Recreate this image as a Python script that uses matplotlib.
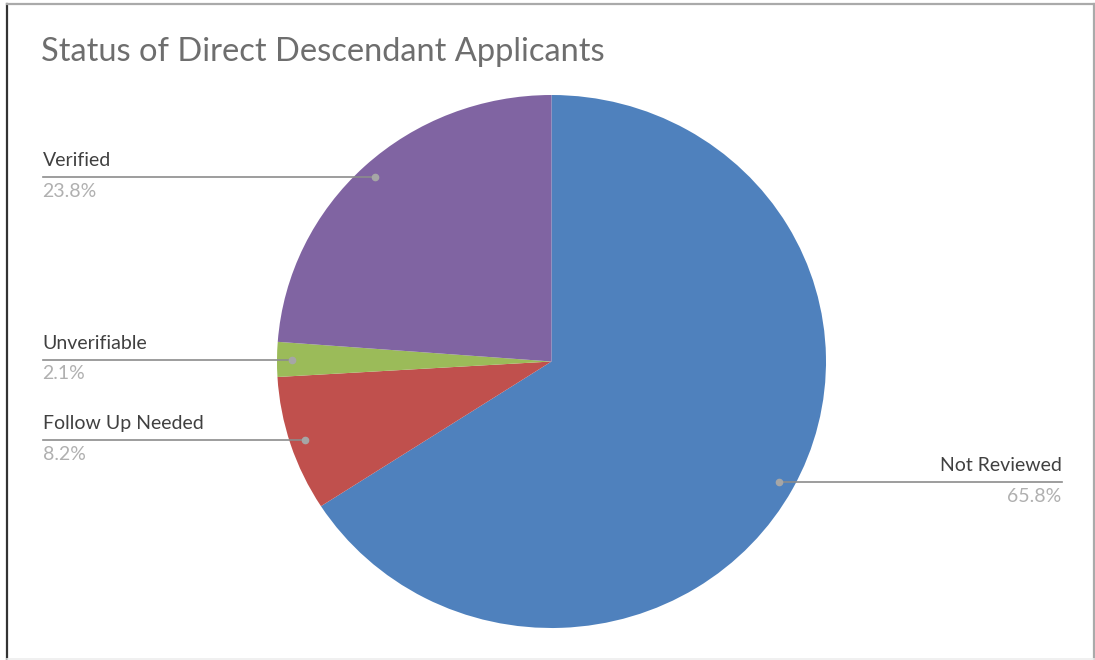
import numpy as np
import matplotlib.pyplot as plt
from matplotlib.lines import Line2D

statuses = ["Not Reviewed", "Follow Up Needed", "Unverifiable", "Verified"]
shares = [65.8, 8.2, 2.1, 23.8]
colors = ["#4F81BD", "#C0504D", "#9BBB59", "#8064A2"]

W, H = 1095, 660
fig = plt.figure(figsize=(W / 100, H / 100), dpi=100)
plt.rcParams["font.family"] = ["Lato", "DejaVu Sans"]

# frame around the picture
fig.add_artist(Line2D([7 / W, 7 / W], [1 - 4 / H, 1 / H], transform=fig.transFigure, color="#333333", lw=1.6))
fig.add_artist(Line2D([7 / W, 1094 / W], [1 - 4 / H, 1 - 4 / H], transform=fig.transFigure, color="#AAAAAA", lw=1.6))
fig.add_artist(Line2D([1094 / W, 1094 / W], [1 - 4 / H, 1 / H], transform=fig.transFigure, color="#AAAAAA", lw=1.6))
fig.add_artist(Line2D([7 / W, 1094 / W], [1.5 / H, 1.5 / H], transform=fig.transFigure, color="#EEEEEE", lw=1.2))

fig.text(41 / W, 1 - 52 / H, "Status of Direct Descendant Applicants", fontsize=23.5,
         color="#6E6E6E", ha="left", va="center")

# pie box in pixels: x 277..826, y 95..628
ax = fig.add_axes([277 / W, 1 - 628 / H, 549 / W, 533 / H])
wedges, _ = ax.pie(shares, colors=colors, startangle=90, counterclock=False,
                   wedgeprops=dict(linewidth=0))
ax.set_aspect("auto")
ax.set_xlim(-1, 1)
ax.set_ylim(-1, 1)
ax.axis("off")

total = sum(shares)
start = 90.0
for name, val in zip(statuses, shares):
    span = 360 * val / total
    mid = np.deg2rad(start - span / 2)
    start -= span
    dx, dy = 0.945 * np.cos(mid), 0.945 * np.sin(mid)
    if dx > 0:
        xe, ha = 1.858, "right"
    else:
        xe, ha = -1.854, "left"
    ax.plot([dx, xe], [dy, dy], color="#8C8C8C", lw=1.2, clip_on=False, zorder=3)
    ax.plot(dx, dy, "o", ms=4.5, color="#A6A6A6", clip_on=False, zorder=4)
    ax.text(xe, dy + 0.03, name, ha=ha, va="bottom", fontsize=14, color="#404040", clip_on=False)
    ax.text(xe, dy - 0.022, f"{val}%", ha=ha, va="top", fontsize=14, color="#B0B0B0", clip_on=False)

fig.savefig("out.png", dpi=100, facecolor="white")
